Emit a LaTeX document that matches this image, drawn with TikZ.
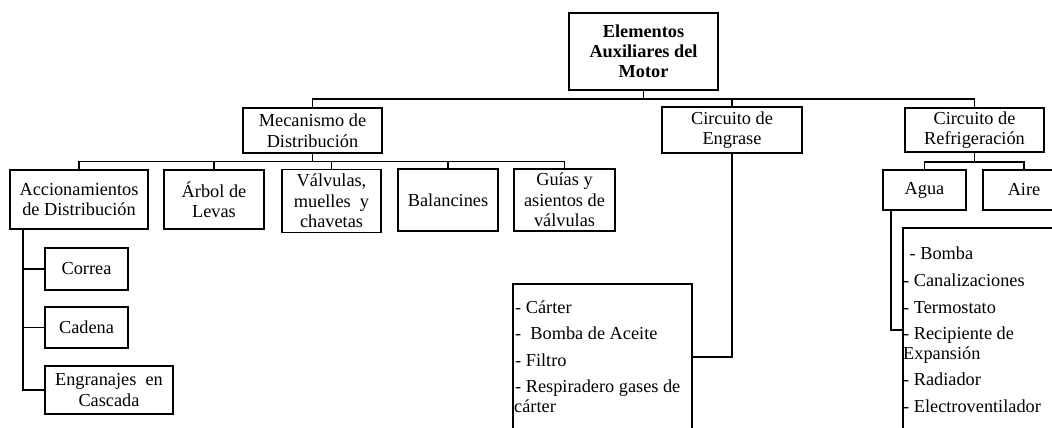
\documentclass[tikz,border=0pt]{standalone}
\usepackage{fontspec}
\setmainfont{Liberation Serif}
\begin{document}
\begin{tikzpicture}[x=1pt,y=-1pt,
  box/.style={draw,line width=1.8pt,inner sep=0pt,align=center,font=\fontsize{18.3}{20.5}\selectfont},
  ln/.style={line width=1.8pt},
  item/.style={anchor=base west,inner sep=0pt,font=\fontsize{18.3}{20.5}\selectfont}]
\useasboundingbox (0,0) rectangle (1052,428);
\clip (0,0) rectangle (1052,428);
% tree boxes
\node[box,font=\bfseries\fontsize{18.3}{20}\selectfont,minimum width=149pt,minimum height=77pt] (top) at (643.5,51.5) {Elementos\\Auxiliares del\\Motor};
\node[box,minimum width=139pt,minimum height=45pt] (mec) at (312.5,130.5) {Mecanismo de\\Distribución};
\node[box,minimum width=140pt,minimum height=46pt] (eng) at (732,130) {Circuito de\\Engrase};
\node[box,minimum width=139pt,minimum height=44pt] (ref) at (974.5,130) {Circuito de\\Refrigeración};
\node[box,minimum width=138pt,minimum height=59pt] (acc) at (79,199.5) {Accionamientos\\de Distribución};
\node[box,minimum width=100pt,minimum height=59pt] (arb) at (214,199.5) {Árbol de\\Levas};
\node[box,minimum width=99pt,minimum height=63pt] (val) at (331.5,201) {Válvulas,\\muelles\ \ y\\chavetas};
\node[box,minimum width=100pt,minimum height=62pt] (bal) at (448,200) {Balancines};
\node[box,minimum width=101pt,minimum height=62pt] (gui) at (564.5,200) {Guías y\\asientos de\\válvulas};
\node[box,minimum width=83pt,minimum height=40pt] (agua) at (924.5,190) {Agua};
\node[box,minimum width=82pt,minimum height=40pt] (aire) at (1024,190) {Aire};
\node[box,minimum width=83pt,minimum height=42pt] (cor) at (86.5,269) {Correa};
\node[box,minimum width=83pt,minimum height=41pt] (cad) at (86.5,327.5) {Cadena};
\node[box,minimum width=128pt,minimum height=48pt] (engr) at (109,390) {Engranajes\ \ en\\Cascada};
% list boxes (cut by the picture edge)
\node[box,minimum width=179pt,minimum height=146pt] (englist) at (602.5,357) {};
\node[box,minimum width=180pt,minimum height=204pt] (reflist) at (993,330) {};
% list texts
\node[item] (e1) at (515,313) {- Cárter};
\node[item] (e2) at (515,339) {-\ \ Bomba de Aceite};
\node[item] (e3) at (515,366) {- Filtro};
\node[item] (e4) at (515,392) {- Respiradero gases de};
\node[item] (e5) at (514,412) {cárter};
\node[item] (r1) at (909.5,259) {- Bomba};
\node[item] (r2) at (903,286) {- Canalizaciones};
\node[item] (r3) at (903,313) {- Termostato};
\node[item] (r4) at (903,339) {- Recipiente de};
\node[item] (r5) at (903,359) {Expansión};
\node[item] (r6) at (903,385) {- Radiador};
\node[item] (r7) at (903,412) {- Electroventilador};
% connectors
\coordinate (bus1) at (643.5,99);
\draw[ln] (top.south) -- (bus1);
\draw[ln] (mec.north) |- (ref.north |- bus1) -- (ref.north);
\draw[ln] (eng.north) -- (eng.north |- bus1);
\coordinate (bus2) at (312.5,161.5);
\draw[ln] (mec.south) -- (bus2);
\draw[ln] (acc.north) |- (gui.north |- bus2) -- (gui.north);
\draw[ln] (arb.north) -- (arb.north |- bus2);
\draw[ln] (val.north) -- (val.north |- bus2);
\draw[ln] (bal.north) -- (bal.north |- bus2);
\coordinate (bus3) at (974.5,162);
\draw[ln] (ref.south) -- (bus3);
\draw[ln] (agua.north) |- (aire.north |- bus3) -- (aire.north);
\path (acc.south west) ++(14,0) coordinate (a0);
\draw[ln] (a0) |- (engr.west);
\draw[ln] (cor.west) -- (cor.west -| a0);
\draw[ln] (cad.west) -- (cad.west -| a0);
\draw[ln] (eng.south) |- (englist.east);
\path (agua.south west) ++(9,0) coordinate (w0);
\draw[ln] (w0) |- (reflist.west);
\end{tikzpicture}
\end{document}
